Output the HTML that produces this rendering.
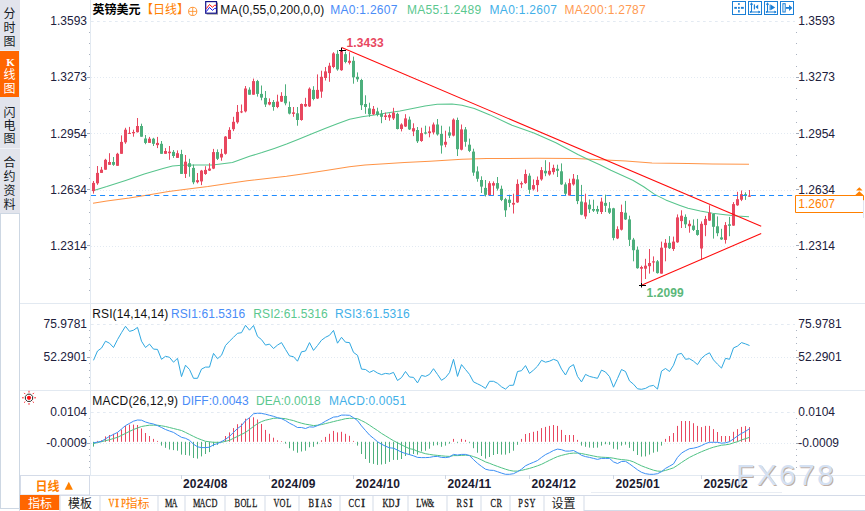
<!DOCTYPE html>
<html><head><meta charset="utf-8"><title>GBPUSD</title>
<style>
html,body{margin:0;padding:0;background:#fff;}
body{width:865px;height:511px;overflow:hidden;position:relative;font-family:"Liberation Sans",sans-serif;}
#g{position:absolute;left:0;top:0;}
#g text{font-family:"Liberation Sans","Noto Sans CJK SC",sans-serif;}
.s{font-family:'Liberation Serif',serif !important;font-size:12.5px;}
.s i{display:inline-block;width:6px;text-align:center;font-style:normal;}
.s b{display:inline-block;font-weight:normal;-webkit-text-stroke:0.3px currentColor;transform:scaleX(.66);margin:0 -3px;}
.s b.w{transform:scaleX(1);}
.t{position:absolute;white-space:nowrap;line-height:14px;height:14px;font-family:"Liberation Sans",sans-serif;}
</style></head><body>
<svg id="g" width="865" height="511" viewBox="0 0 865 511">
<rect x="0" y="0" width="20" height="213" fill="#e2e4ec"/>
<rect x="0" y="50" width="20" height="47" fill="#e9f0f9"/><rect x="0" y="51" width="19" height="46" fill="#ff6600"/>
<rect x="0" y="148" width="20" height="1" fill="#f0f2f7"/>
<rect x="0" y="213" width="20" height="296" fill="#cdd7e3"/>
<rect x="1" y="214" width="18" height="294" fill="#fff"/>
<text x="9.5" y="18" font-size="12" fill="#151a24" text-anchor="middle">分</text>
<text x="9.5" y="32" font-size="12" fill="#151a24" text-anchor="middle">时</text>
<text x="9.5" y="45.5" font-size="12" fill="#151a24" text-anchor="middle">图</text>
<text x="9.5" y="79" font-size="12" fill="#fff" text-anchor="middle">线</text>
<text x="9.5" y="92.5" font-size="12" fill="#fff" text-anchor="middle">图</text>
<text x="9.5" y="116.5" font-size="12" fill="#151a24" text-anchor="middle">闪</text>
<text x="9.5" y="130" font-size="12" fill="#151a24" text-anchor="middle">电</text>
<text x="9.5" y="143" font-size="12" fill="#151a24" text-anchor="middle">图</text>
<text x="9.5" y="166.5" font-size="12" fill="#151a24" text-anchor="middle">合</text>
<text x="9.5" y="180.5" font-size="12" fill="#151a24" text-anchor="middle">约</text>
<text x="9.5" y="194.5" font-size="12" fill="#151a24" text-anchor="middle">资</text>
<text x="9.5" y="208.5" font-size="12" fill="#151a24" text-anchor="middle">料</text>
<rect x="19" y="508" width="1" height="3" fill="#d4dbe8"/>
<rect x="20" y="303" width="845" height="1" fill="#e2e9f1"/>
<rect x="20" y="390" width="845" height="1" fill="#e2e9f1"/>
<rect x="20" y="475" width="845" height="1" fill="#e2e9f1"/>
<rect x="90" y="0" width="1" height="475" fill="#e2e9f1"/>
<rect x="20" y="495" width="845" height="1" fill="#d4dbe8"/>
<line x1="91" y1="21.5" x2="795" y2="21.5" stroke="#e3eaf2" stroke-width="1" stroke-dasharray="2.7 3.3"/>
<line x1="91" y1="77.5" x2="795" y2="77.5" stroke="#e3eaf2" stroke-width="1" stroke-dasharray="1 2"/>
<line x1="91" y1="133.5" x2="795" y2="133.5" stroke="#e3eaf2" stroke-width="1" stroke-dasharray="1 2"/>
<line x1="91" y1="190.5" x2="795" y2="190.5" stroke="#e3eaf2" stroke-width="1" stroke-dasharray="1 2"/>
<line x1="91" y1="246.5" x2="795" y2="246.5" stroke="#e3eaf2" stroke-width="1" stroke-dasharray="1 2"/>
<line x1="91" y1="324.5" x2="795" y2="324.5" stroke="#e3eaf2" stroke-width="1" stroke-dasharray="2.7 3.3"/>
<line x1="91" y1="357.5" x2="795" y2="357.5" stroke="#e3eaf2" stroke-width="1" stroke-dasharray="1 2"/>
<line x1="91" y1="412.5" x2="795" y2="412.5" stroke="#e3eaf2" stroke-width="1" stroke-dasharray="2.7 3.3"/>
<line x1="91" y1="443.5" x2="795" y2="443.5" stroke="#e3eaf2" stroke-width="1" stroke-dasharray="1 2"/>
<rect x="89" y="32" width="1" height="1" fill="#aab2c0"/>
<rect x="796" y="32" width="1" height="1" fill="#aab2c0"/>
<rect x="89" y="43" width="1" height="1" fill="#aab2c0"/>
<rect x="796" y="43" width="1" height="1" fill="#aab2c0"/>
<rect x="89" y="54" width="1" height="1" fill="#aab2c0"/>
<rect x="796" y="54" width="1" height="1" fill="#aab2c0"/>
<rect x="89" y="66" width="1" height="1" fill="#aab2c0"/>
<rect x="796" y="66" width="1" height="1" fill="#aab2c0"/>
<rect x="87" y="77" width="3" height="1" fill="#a3abb9"/>
<rect x="796" y="77" width="3" height="1" fill="#a3abb9"/>
<rect x="89" y="88" width="1" height="1" fill="#aab2c0"/>
<rect x="796" y="88" width="1" height="1" fill="#aab2c0"/>
<rect x="89" y="99" width="1" height="1" fill="#aab2c0"/>
<rect x="796" y="99" width="1" height="1" fill="#aab2c0"/>
<rect x="89" y="111" width="1" height="1" fill="#aab2c0"/>
<rect x="796" y="111" width="1" height="1" fill="#aab2c0"/>
<rect x="89" y="122" width="1" height="1" fill="#aab2c0"/>
<rect x="796" y="122" width="1" height="1" fill="#aab2c0"/>
<rect x="87" y="133" width="3" height="1" fill="#a3abb9"/>
<rect x="796" y="133" width="3" height="1" fill="#a3abb9"/>
<rect x="89" y="144" width="1" height="1" fill="#aab2c0"/>
<rect x="796" y="144" width="1" height="1" fill="#aab2c0"/>
<rect x="89" y="155" width="1" height="1" fill="#aab2c0"/>
<rect x="796" y="155" width="1" height="1" fill="#aab2c0"/>
<rect x="89" y="167" width="1" height="1" fill="#aab2c0"/>
<rect x="796" y="167" width="1" height="1" fill="#aab2c0"/>
<rect x="89" y="178" width="1" height="1" fill="#aab2c0"/>
<rect x="796" y="178" width="1" height="1" fill="#aab2c0"/>
<rect x="87" y="189" width="3" height="1" fill="#a3abb9"/>
<rect x="796" y="189" width="3" height="1" fill="#a3abb9"/>
<rect x="89" y="200" width="1" height="1" fill="#aab2c0"/>
<rect x="796" y="200" width="1" height="1" fill="#aab2c0"/>
<rect x="89" y="212" width="1" height="1" fill="#aab2c0"/>
<rect x="796" y="212" width="1" height="1" fill="#aab2c0"/>
<rect x="89" y="223" width="1" height="1" fill="#aab2c0"/>
<rect x="796" y="223" width="1" height="1" fill="#aab2c0"/>
<rect x="89" y="234" width="1" height="1" fill="#aab2c0"/>
<rect x="796" y="234" width="1" height="1" fill="#aab2c0"/>
<rect x="87" y="245" width="3" height="1" fill="#a3abb9"/>
<rect x="796" y="245" width="3" height="1" fill="#a3abb9"/>
<rect x="89" y="257" width="1" height="1" fill="#aab2c0"/>
<rect x="796" y="257" width="1" height="1" fill="#aab2c0"/>
<rect x="89" y="268" width="1" height="1" fill="#aab2c0"/>
<rect x="796" y="268" width="1" height="1" fill="#aab2c0"/>
<rect x="89" y="279" width="1" height="1" fill="#aab2c0"/>
<rect x="796" y="279" width="1" height="1" fill="#aab2c0"/>
<rect x="89" y="290" width="1" height="1" fill="#aab2c0"/>
<rect x="796" y="290" width="1" height="1" fill="#aab2c0"/>
<rect x="89" y="330" width="1" height="1" fill="#aab2c0"/>
<rect x="796" y="330" width="1" height="1" fill="#aab2c0"/>
<rect x="89" y="337" width="1" height="1" fill="#aab2c0"/>
<rect x="796" y="337" width="1" height="1" fill="#aab2c0"/>
<rect x="89" y="343" width="1" height="1" fill="#aab2c0"/>
<rect x="796" y="343" width="1" height="1" fill="#aab2c0"/>
<rect x="89" y="350" width="1" height="1" fill="#aab2c0"/>
<rect x="796" y="350" width="1" height="1" fill="#aab2c0"/>
<rect x="87" y="357" width="3" height="1" fill="#a3abb9"/>
<rect x="796" y="357" width="3" height="1" fill="#a3abb9"/>
<rect x="89" y="363" width="1" height="1" fill="#aab2c0"/>
<rect x="796" y="363" width="1" height="1" fill="#aab2c0"/>
<rect x="89" y="370" width="1" height="1" fill="#aab2c0"/>
<rect x="796" y="370" width="1" height="1" fill="#aab2c0"/>
<rect x="89" y="377" width="1" height="1" fill="#aab2c0"/>
<rect x="796" y="377" width="1" height="1" fill="#aab2c0"/>
<rect x="89" y="383" width="1" height="1" fill="#aab2c0"/>
<rect x="796" y="383" width="1" height="1" fill="#aab2c0"/>
<rect x="89" y="418" width="1" height="1" fill="#aab2c0"/>
<rect x="796" y="418" width="1" height="1" fill="#aab2c0"/>
<rect x="89" y="424" width="1" height="1" fill="#aab2c0"/>
<rect x="796" y="424" width="1" height="1" fill="#aab2c0"/>
<rect x="89" y="430" width="1" height="1" fill="#aab2c0"/>
<rect x="796" y="430" width="1" height="1" fill="#aab2c0"/>
<rect x="89" y="436" width="1" height="1" fill="#aab2c0"/>
<rect x="796" y="436" width="1" height="1" fill="#aab2c0"/>
<rect x="87" y="443" width="3" height="1" fill="#a3abb9"/>
<rect x="796" y="443" width="3" height="1" fill="#a3abb9"/>
<rect x="89" y="449" width="1" height="1" fill="#aab2c0"/>
<rect x="796" y="449" width="1" height="1" fill="#aab2c0"/>
<rect x="89" y="455" width="1" height="1" fill="#aab2c0"/>
<rect x="796" y="455" width="1" height="1" fill="#aab2c0"/>
<rect x="89" y="461" width="1" height="1" fill="#aab2c0"/>
<rect x="796" y="461" width="1" height="1" fill="#aab2c0"/>
<rect x="89" y="467" width="1" height="1" fill="#aab2c0"/>
<rect x="796" y="467" width="1" height="1" fill="#aab2c0"/>
<polyline points="93,203.3 106.8,201 129.3,198 148,195 168.6,191.6 188,189 207.9,186.6 228,183.6 247.2,180.7 267,178.4 286.5,176.3 306,173.4 325.8,170.4 349.4,166.7 365,165 385,163.7 404.4,162.6 430,161.2 462,159.2 486.6,158.5 537,158.3 575,158.6 596,159.6 626,161 652,163 688,163.4 712.6,163.9 749,164.2" fill="none" stroke="#ff9447" stroke-width="1.05" stroke-linejoin="round" />
<polyline points="93,190.8 106.8,186.6 125.6,180.4 144.3,173.9 163,168.6 172.5,166 182,165.2 196,165 212.6,164.9 232.4,162.5 249.6,156.3 262,152.6 274.3,148.4 286.6,144 298,139.6 312.6,133.6 325,128.6 337.3,123.7 349.6,119.3 362,116.8 374.3,115 386.6,112.9 400,111 412.6,108.5 425,106 437.3,104.3 452,104 462,105.3 474.3,108.5 490,114.9 512,125.3 533.9,132.9 555.9,142.8 577.9,154.5 588.8,159.7 599.8,164.8 610.8,170.3 621.8,175.3 632.8,180.2 643.7,186.8 654.7,194.4 665.7,199.9 680,205.4 688,208.3 700.3,211 712.6,213.2 725,214.7 737.3,216 749,216.7" fill="none" stroke="#57c48c" stroke-width="1.05" stroke-linejoin="round" />
<rect x="93" y="181" width="1" height="12.6" fill="#e8475f"/>
<rect x="92" y="182.9" width="3" height="8.2" fill="#e8475f"/>
<rect x="97" y="166" width="1" height="18.8" fill="#e8475f"/>
<rect x="96" y="172.9" width="3" height="10.4" fill="#e8475f"/>
<rect x="101" y="166.9" width="1" height="6" fill="#e8475f"/>
<rect x="100" y="169.7" width="3" height="3.2" fill="#e8475f"/>
<rect x="105" y="158.8" width="1" height="10.9" fill="#e8475f"/>
<rect x="104" y="159.8" width="3" height="9.9" fill="#e8475f"/>
<rect x="109" y="153.2" width="1" height="11.6" fill="#e8475f"/>
<rect x="108" y="162" width="3" height="2.8" fill="#e8475f"/>
<rect x="113" y="157" width="1" height="8.8" fill="#4daf7c"/>
<rect x="112" y="162" width="3" height="2.8" fill="#4daf7c"/>
<rect x="117" y="152.8" width="1" height="13" fill="#e8475f"/>
<rect x="116" y="153.8" width="3" height="12" fill="#e8475f"/>
<rect x="121" y="135.4" width="1" height="18.4" fill="#e8475f"/>
<rect x="120" y="141.9" width="3" height="11.9" fill="#e8475f"/>
<rect x="125" y="127.8" width="1" height="16" fill="#e8475f"/>
<rect x="124" y="129.7" width="3" height="12.6" fill="#e8475f"/>
<rect x="129" y="126.9" width="1" height="7" fill="#e8475f"/>
<rect x="128" y="132.9" width="3" height="1" fill="#e8475f"/>
<rect x="133" y="129.7" width="1" height="7" fill="#e8475f"/>
<rect x="132" y="132" width="3" height="1.3" fill="#e8475f"/>
<rect x="137" y="118" width="1" height="14.5" fill="#e8475f"/>
<rect x="136" y="126" width="3" height="6.2" fill="#e8475f"/>
<rect x="141" y="123.7" width="1" height="13" fill="#4daf7c"/>
<rect x="140" y="126" width="3" height="10.7" fill="#4daf7c"/>
<rect x="145" y="135" width="1" height="9.2" fill="#4daf7c"/>
<rect x="144" y="138.5" width="3" height="4.4" fill="#4daf7c"/>
<rect x="149" y="136.9" width="1" height="6" fill="#e8475f"/>
<rect x="148" y="138.7" width="3" height="4.2" fill="#e8475f"/>
<rect x="153" y="137.8" width="1" height="8.2" fill="#4daf7c"/>
<rect x="152" y="138.7" width="3" height="5.1" fill="#4daf7c"/>
<rect x="157" y="136.9" width="1" height="11.2" fill="#e8475f"/>
<rect x="156" y="142.9" width="3" height="2.2" fill="#e8475f"/>
<rect x="161" y="141" width="1" height="12.8" fill="#4daf7c"/>
<rect x="160" y="143.8" width="3" height="10" fill="#4daf7c"/>
<rect x="165" y="148.1" width="1" height="5.7" fill="#e8475f"/>
<rect x="164" y="151" width="3" height="2.8" fill="#e8475f"/>
<rect x="169" y="146" width="1" height="13.8" fill="#e8475f"/>
<rect x="168" y="151.7" width="3" height="1.5" fill="#e8475f"/>
<rect x="173" y="150" width="1" height="7.9" fill="#4daf7c"/>
<rect x="172" y="151.9" width="3" height="4.1" fill="#4daf7c"/>
<rect x="177" y="150.4" width="1" height="7.5" fill="#e8475f"/>
<rect x="176" y="153.2" width="3" height="4.7" fill="#e8475f"/>
<rect x="181" y="149.8" width="1" height="24.1" fill="#4daf7c"/>
<rect x="180" y="154.1" width="3" height="19.8" fill="#4daf7c"/>
<rect x="185" y="155" width="1" height="23" fill="#e8475f"/>
<rect x="184" y="161.7" width="3" height="12.2" fill="#e8475f"/>
<rect x="189" y="158.8" width="1" height="17.9" fill="#4daf7c"/>
<rect x="188" y="163.2" width="3" height="3.7" fill="#4daf7c"/>
<rect x="193" y="164.5" width="1" height="19.7" fill="#4daf7c"/>
<rect x="192" y="167.9" width="3" height="14.4" fill="#4daf7c"/>
<rect x="197" y="173" width="1" height="10.4" fill="#e8475f"/>
<rect x="196" y="180.2" width="3" height="2" fill="#e8475f"/>
<rect x="201" y="169.9" width="1" height="15.2" fill="#e8475f"/>
<rect x="200" y="170.6" width="3" height="10.8" fill="#e8475f"/>
<rect x="205" y="166.2" width="1" height="8.6" fill="#e8475f"/>
<rect x="204" y="169.9" width="3" height="4.1" fill="#e8475f"/>
<rect x="209" y="163.2" width="1" height="7.8" fill="#e8475f"/>
<rect x="208" y="168.6" width="3" height="2" fill="#e8475f"/>
<rect x="213" y="148.9" width="1" height="20.2" fill="#e8475f"/>
<rect x="212" y="152.1" width="3" height="16.5" fill="#e8475f"/>
<rect x="217" y="149.4" width="1" height="10.6" fill="#4daf7c"/>
<rect x="216" y="152.1" width="3" height="6.7" fill="#4daf7c"/>
<rect x="221" y="148.9" width="1" height="11.8" fill="#e8475f"/>
<rect x="220" y="153.8" width="3" height="3.7" fill="#e8475f"/>
<rect x="225" y="136" width="1" height="18.6" fill="#e8475f"/>
<rect x="224" y="136.6" width="3" height="17.2" fill="#e8475f"/>
<rect x="229" y="127.2" width="1" height="11.8" fill="#e8475f"/>
<rect x="228" y="129.9" width="3" height="9.1" fill="#e8475f"/>
<rect x="233" y="116.8" width="1" height="14.3" fill="#e8475f"/>
<rect x="232" y="121.8" width="3" height="7.4" fill="#e8475f"/>
<rect x="237" y="105" width="1" height="18.7" fill="#e8475f"/>
<rect x="236" y="111.9" width="3" height="10.4" fill="#e8475f"/>
<rect x="241" y="104.5" width="1" height="8.6" fill="#e8475f"/>
<rect x="240" y="111.4" width="3" height="1" fill="#e8475f"/>
<rect x="245" y="86" width="1" height="26.4" fill="#e8475f"/>
<rect x="244" y="88.5" width="3" height="22.9" fill="#e8475f"/>
<rect x="249" y="87.3" width="1" height="7.4" fill="#4daf7c"/>
<rect x="248" y="89.7" width="3" height="5" fill="#4daf7c"/>
<rect x="253" y="78.6" width="1" height="16.1" fill="#e8475f"/>
<rect x="252" y="81.1" width="3" height="13.6" fill="#e8475f"/>
<rect x="257" y="79.9" width="1" height="16.7" fill="#4daf7c"/>
<rect x="256" y="81.1" width="3" height="12.8" fill="#4daf7c"/>
<rect x="261" y="85.5" width="1" height="14.8" fill="#4daf7c"/>
<rect x="260" y="93.9" width="3" height="3.7" fill="#4daf7c"/>
<rect x="265" y="91" width="1" height="16" fill="#4daf7c"/>
<rect x="264" y="97.9" width="3" height="6.6" fill="#4daf7c"/>
<rect x="269" y="98.4" width="1" height="6.9" fill="#e8475f"/>
<rect x="268" y="102" width="3" height="2.5" fill="#e8475f"/>
<rect x="273" y="100" width="1" height="10.7" fill="#4daf7c"/>
<rect x="272" y="102" width="3" height="5" fill="#4daf7c"/>
<rect x="277" y="94.7" width="1" height="13.5" fill="#e8475f"/>
<rect x="276" y="101.6" width="3" height="5.4" fill="#e8475f"/>
<rect x="281" y="92.2" width="1" height="9.8" fill="#e8475f"/>
<rect x="280" y="95.9" width="3" height="5.7" fill="#e8475f"/>
<rect x="285" y="84.3" width="1" height="21" fill="#4daf7c"/>
<rect x="284" y="95.9" width="3" height="7.4" fill="#4daf7c"/>
<rect x="289" y="101.6" width="1" height="12.8" fill="#4daf7c"/>
<rect x="288" y="107" width="3" height="6.6" fill="#4daf7c"/>
<rect x="293" y="107" width="1" height="9.8" fill="#e8475f"/>
<rect x="292" y="112.4" width="3" height="1.5" fill="#e8475f"/>
<rect x="297" y="107" width="1" height="18.7" fill="#4daf7c"/>
<rect x="296" y="113.3" width="3" height="6.7" fill="#4daf7c"/>
<rect x="301" y="103.5" width="1" height="17.2" fill="#e8475f"/>
<rect x="300" y="104" width="3" height="16" fill="#e8475f"/>
<rect x="305" y="97.8" width="1" height="9.2" fill="#e8475f"/>
<rect x="304" y="104" width="3" height="2.4" fill="#e8475f"/>
<rect x="309" y="87.4" width="1" height="19.6" fill="#e8475f"/>
<rect x="308" y="88.7" width="3" height="17.7" fill="#e8475f"/>
<rect x="313" y="86.2" width="1" height="14.1" fill="#4daf7c"/>
<rect x="312" y="89.9" width="3" height="9.1" fill="#4daf7c"/>
<rect x="317" y="74.4" width="1" height="24.6" fill="#e8475f"/>
<rect x="316" y="89.9" width="3" height="8.6" fill="#e8475f"/>
<rect x="321" y="70.7" width="1" height="27.1" fill="#e8475f"/>
<rect x="320" y="76.8" width="3" height="14.8" fill="#e8475f"/>
<rect x="325" y="67" width="1" height="13.5" fill="#e8475f"/>
<rect x="324" y="71.4" width="3" height="6.6" fill="#e8475f"/>
<rect x="329" y="62.8" width="1" height="19" fill="#e8475f"/>
<rect x="328" y="65.7" width="3" height="7.4" fill="#e8475f"/>
<rect x="333" y="52.2" width="1" height="16" fill="#e8475f"/>
<rect x="332" y="53.4" width="3" height="13.6" fill="#e8475f"/>
<rect x="337" y="50.2" width="1" height="20.5" fill="#4daf7c"/>
<rect x="336" y="53.9" width="3" height="15.5" fill="#4daf7c"/>
<rect x="341" y="48.1" width="1" height="22.7" fill="#e8475f"/>
<rect x="340" y="51" width="3" height="19.2" fill="#e8475f"/>
<rect x="345" y="51.7" width="1" height="11.6" fill="#4daf7c"/>
<rect x="344" y="54.2" width="3" height="7.8" fill="#4daf7c"/>
<rect x="349" y="52.2" width="1" height="12.3" fill="#e8475f"/>
<rect x="348" y="60.8" width="3" height="2" fill="#e8475f"/>
<rect x="353" y="56.6" width="1" height="27.1" fill="#4daf7c"/>
<rect x="352" y="60.8" width="3" height="16.5" fill="#4daf7c"/>
<rect x="357" y="72.4" width="1" height="9.4" fill="#4daf7c"/>
<rect x="356" y="76.8" width="3" height="2.5" fill="#4daf7c"/>
<rect x="361" y="78.8" width="1" height="31.2" fill="#4daf7c"/>
<rect x="360" y="80" width="3" height="25.2" fill="#4daf7c"/>
<rect x="365" y="95.3" width="1" height="18.5" fill="#4daf7c"/>
<rect x="364" y="104" width="3" height="3" fill="#4daf7c"/>
<rect x="369" y="102.7" width="1" height="14.1" fill="#4daf7c"/>
<rect x="368" y="108.4" width="3" height="5.9" fill="#4daf7c"/>
<rect x="373" y="106" width="1" height="9" fill="#e8475f"/>
<rect x="372" y="108.9" width="3" height="5.4" fill="#e8475f"/>
<rect x="377" y="107.7" width="1" height="8.6" fill="#4daf7c"/>
<rect x="376" y="111.4" width="3" height="3.6" fill="#4daf7c"/>
<rect x="381" y="110" width="1" height="13.2" fill="#4daf7c"/>
<rect x="380" y="113.8" width="3" height="3" fill="#4daf7c"/>
<rect x="385" y="112.6" width="1" height="7.4" fill="#e8475f"/>
<rect x="384" y="115.5" width="3" height="1.5" fill="#e8475f"/>
<rect x="389" y="113.3" width="1" height="7.4" fill="#e8475f"/>
<rect x="388" y="115" width="3" height="2.5" fill="#e8475f"/>
<rect x="393" y="107.8" width="1" height="12.2" fill="#e8475f"/>
<rect x="392" y="112.7" width="3" height="5.7" fill="#e8475f"/>
<rect x="397" y="112.7" width="1" height="16.7" fill="#4daf7c"/>
<rect x="396" y="113.9" width="3" height="15.1" fill="#4daf7c"/>
<rect x="401" y="123.3" width="1" height="8.1" fill="#e8475f"/>
<rect x="400" y="124.5" width="3" height="4.5" fill="#e8475f"/>
<rect x="405" y="114.2" width="1" height="12.8" fill="#e8475f"/>
<rect x="404" y="118.4" width="3" height="8.1" fill="#e8475f"/>
<rect x="409" y="116.6" width="1" height="13.4" fill="#4daf7c"/>
<rect x="408" y="119.6" width="3" height="9.8" fill="#4daf7c"/>
<rect x="413" y="123.3" width="1" height="12.8" fill="#e8475f"/>
<rect x="412" y="128.2" width="3" height="3.2" fill="#e8475f"/>
<rect x="417" y="127" width="1" height="16" fill="#4daf7c"/>
<rect x="416" y="130" width="3" height="11.3" fill="#4daf7c"/>
<rect x="421" y="127.7" width="1" height="14.1" fill="#e8475f"/>
<rect x="420" y="133.1" width="3" height="7.9" fill="#e8475f"/>
<rect x="425" y="125.7" width="1" height="8.7" fill="#4daf7c"/>
<rect x="424" y="132.4" width="3" height="1.2" fill="#4daf7c"/>
<rect x="429" y="126.5" width="1" height="10.8" fill="#e8475f"/>
<rect x="428" y="131.4" width="3" height="1.7" fill="#e8475f"/>
<rect x="433" y="122.5" width="1" height="11.9" fill="#e8475f"/>
<rect x="432" y="124.5" width="3" height="7.9" fill="#e8475f"/>
<rect x="437" y="119" width="1" height="16.6" fill="#4daf7c"/>
<rect x="436" y="124.5" width="3" height="9.9" fill="#4daf7c"/>
<rect x="441" y="125.7" width="1" height="27.9" fill="#4daf7c"/>
<rect x="440" y="133.9" width="3" height="11.6" fill="#4daf7c"/>
<rect x="445" y="130.7" width="1" height="16.5" fill="#e8475f"/>
<rect x="444" y="141.8" width="3" height="2.9" fill="#e8475f"/>
<rect x="449" y="126.5" width="1" height="11.5" fill="#4daf7c"/>
<rect x="448" y="132.4" width="3" height="3.2" fill="#4daf7c"/>
<rect x="453" y="118.4" width="1" height="18" fill="#e8475f"/>
<rect x="452" y="119.6" width="3" height="16" fill="#e8475f"/>
<rect x="457" y="117.6" width="1" height="38.4" fill="#4daf7c"/>
<rect x="456" y="120" width="3" height="29.2" fill="#4daf7c"/>
<rect x="461" y="124.5" width="1" height="25.9" fill="#e8475f"/>
<rect x="460" y="129.4" width="3" height="20.3" fill="#e8475f"/>
<rect x="465" y="127" width="1" height="19.7" fill="#4daf7c"/>
<rect x="464" y="129.4" width="3" height="12.4" fill="#4daf7c"/>
<rect x="469" y="138.6" width="1" height="13.5" fill="#4daf7c"/>
<rect x="468" y="144.7" width="3" height="6.2" fill="#4daf7c"/>
<rect x="473" y="148.7" width="1" height="27.1" fill="#4daf7c"/>
<rect x="472" y="151.6" width="3" height="21" fill="#4daf7c"/>
<rect x="477" y="166.4" width="1" height="15.3" fill="#4daf7c"/>
<rect x="476" y="171.4" width="3" height="7.4" fill="#4daf7c"/>
<rect x="481" y="176.3" width="1" height="16.7" fill="#4daf7c"/>
<rect x="480" y="180" width="3" height="6.6" fill="#4daf7c"/>
<rect x="485" y="180" width="1" height="16.5" fill="#4daf7c"/>
<rect x="484" y="187.9" width="3" height="6.9" fill="#4daf7c"/>
<rect x="489" y="181.2" width="1" height="14.3" fill="#e8475f"/>
<rect x="488" y="183.2" width="3" height="12.1" fill="#e8475f"/>
<rect x="493" y="181.4" width="1" height="14.1" fill="#e8475f"/>
<rect x="492" y="183.1" width="3" height="2.5" fill="#e8475f"/>
<rect x="497" y="177" width="1" height="13.5" fill="#4daf7c"/>
<rect x="496" y="183.1" width="3" height="5.5" fill="#4daf7c"/>
<rect x="501" y="185.6" width="1" height="15.5" fill="#4daf7c"/>
<rect x="500" y="188.8" width="3" height="11.1" fill="#4daf7c"/>
<rect x="505" y="197.9" width="1" height="19" fill="#4daf7c"/>
<rect x="504" y="199.2" width="3" height="11.1" fill="#4daf7c"/>
<rect x="509" y="194.7" width="1" height="12.4" fill="#4daf7c"/>
<rect x="508" y="199.7" width="3" height="3.2" fill="#4daf7c"/>
<rect x="513" y="193.7" width="1" height="19.8" fill="#e8475f"/>
<rect x="512" y="202.9" width="3" height="1.7" fill="#e8475f"/>
<rect x="517" y="179.4" width="1" height="23.5" fill="#e8475f"/>
<rect x="516" y="183.9" width="3" height="18.5" fill="#e8475f"/>
<rect x="521" y="181.4" width="1" height="6.7" fill="#e8475f"/>
<rect x="520" y="183.1" width="3" height="1.3" fill="#e8475f"/>
<rect x="525" y="169.6" width="1" height="14.3" fill="#e8475f"/>
<rect x="524" y="174" width="3" height="9.1" fill="#e8475f"/>
<rect x="529" y="173.3" width="1" height="20.4" fill="#4daf7c"/>
<rect x="528" y="175.7" width="3" height="14.1" fill="#4daf7c"/>
<rect x="533" y="179.4" width="1" height="11.1" fill="#e8475f"/>
<rect x="532" y="185.1" width="3" height="4.2" fill="#e8475f"/>
<rect x="537" y="176.5" width="1" height="15.3" fill="#e8475f"/>
<rect x="536" y="179.9" width="3" height="5.2" fill="#e8475f"/>
<rect x="541" y="167.1" width="1" height="13.6" fill="#e8475f"/>
<rect x="540" y="170.1" width="3" height="9.3" fill="#e8475f"/>
<rect x="545" y="160.2" width="1" height="16" fill="#4daf7c"/>
<rect x="544" y="170.8" width="3" height="2.5" fill="#4daf7c"/>
<rect x="549" y="162.2" width="1" height="13.5" fill="#e8475f"/>
<rect x="548" y="170.8" width="3" height="3.7" fill="#e8475f"/>
<rect x="553" y="164.7" width="1" height="9.8" fill="#e8475f"/>
<rect x="552" y="167.9" width="3" height="4.2" fill="#e8475f"/>
<rect x="557" y="164.7" width="1" height="12.3" fill="#4daf7c"/>
<rect x="556" y="168.8" width="3" height="2" fill="#4daf7c"/>
<rect x="561" y="163.4" width="1" height="21.5" fill="#4daf7c"/>
<rect x="560" y="171.3" width="3" height="13.1" fill="#4daf7c"/>
<rect x="565" y="182.4" width="1" height="13.1" fill="#4daf7c"/>
<rect x="564" y="184.4" width="3" height="9.3" fill="#4daf7c"/>
<rect x="569" y="178.7" width="1" height="16.8" fill="#e8475f"/>
<rect x="568" y="183.1" width="3" height="12.4" fill="#e8475f"/>
<rect x="573" y="174" width="1" height="11.6" fill="#e8475f"/>
<rect x="572" y="178.7" width="3" height="5.7" fill="#e8475f"/>
<rect x="577" y="175" width="1" height="29.1" fill="#4daf7c"/>
<rect x="576" y="179.4" width="3" height="21.7" fill="#4daf7c"/>
<rect x="581" y="184.9" width="1" height="30.3" fill="#4daf7c"/>
<rect x="580" y="201.6" width="3" height="13.1" fill="#4daf7c"/>
<rect x="585" y="193.7" width="1" height="25.2" fill="#e8475f"/>
<rect x="584" y="202.4" width="3" height="14" fill="#e8475f"/>
<rect x="589" y="199.5" width="1" height="13.5" fill="#4daf7c"/>
<rect x="588" y="204.7" width="3" height="4.6" fill="#4daf7c"/>
<rect x="593" y="199.7" width="1" height="12.3" fill="#4daf7c"/>
<rect x="592" y="209" width="3" height="1.7" fill="#4daf7c"/>
<rect x="597" y="205.8" width="1" height="8.2" fill="#4daf7c"/>
<rect x="596" y="209" width="3" height="2.5" fill="#4daf7c"/>
<rect x="601" y="197.7" width="1" height="16.3" fill="#e8475f"/>
<rect x="600" y="201.6" width="3" height="10.4" fill="#e8475f"/>
<rect x="605" y="194.7" width="1" height="17.3" fill="#4daf7c"/>
<rect x="604" y="202.9" width="3" height="2.9" fill="#4daf7c"/>
<rect x="609" y="202.1" width="1" height="11.9" fill="#4daf7c"/>
<rect x="608" y="208.3" width="3" height="4.4" fill="#4daf7c"/>
<rect x="613" y="207.8" width="1" height="32.5" fill="#4daf7c"/>
<rect x="612" y="208.3" width="3" height="29.6" fill="#4daf7c"/>
<rect x="617" y="226.3" width="1" height="12.8" fill="#e8475f"/>
<rect x="616" y="229.2" width="3" height="9.2" fill="#e8475f"/>
<rect x="621" y="204.6" width="1" height="25.9" fill="#e8475f"/>
<rect x="620" y="212" width="3" height="17.7" fill="#e8475f"/>
<rect x="625" y="200.9" width="1" height="19" fill="#4daf7c"/>
<rect x="624" y="212.7" width="3" height="6.7" fill="#4daf7c"/>
<rect x="629" y="215.7" width="1" height="30.3" fill="#4daf7c"/>
<rect x="628" y="219.4" width="3" height="20.4" fill="#4daf7c"/>
<rect x="633" y="237.9" width="1" height="23.4" fill="#4daf7c"/>
<rect x="632" y="239.6" width="3" height="10.6" fill="#4daf7c"/>
<rect x="637" y="246.5" width="1" height="22.2" fill="#4daf7c"/>
<rect x="636" y="249.7" width="3" height="18.5" fill="#4daf7c"/>
<rect x="641" y="265.7" width="1" height="19" fill="#e8475f"/>
<rect x="640" y="267" width="3" height="1.7" fill="#e8475f"/>
<rect x="645" y="258.8" width="1" height="20.2" fill="#e8475f"/>
<rect x="644" y="265.7" width="3" height="3" fill="#e8475f"/>
<rect x="649" y="249" width="1" height="24.6" fill="#e8475f"/>
<rect x="648" y="263" width="3" height="3.2" fill="#e8475f"/>
<rect x="653" y="256.4" width="1" height="15.2" fill="#e8475f"/>
<rect x="652" y="261.3" width="3" height="1.2" fill="#e8475f"/>
<rect x="657" y="260" width="1" height="13.6" fill="#4daf7c"/>
<rect x="656" y="261.3" width="3" height="11.8" fill="#4daf7c"/>
<rect x="661" y="241.6" width="1" height="32" fill="#e8475f"/>
<rect x="660" y="247.7" width="3" height="25.9" fill="#e8475f"/>
<rect x="665" y="239.1" width="1" height="22.2" fill="#e8475f"/>
<rect x="664" y="242.8" width="3" height="4.9" fill="#e8475f"/>
<rect x="669" y="236.1" width="1" height="12.9" fill="#4daf7c"/>
<rect x="668" y="242.8" width="3" height="5.4" fill="#4daf7c"/>
<rect x="673" y="236.6" width="1" height="14.3" fill="#e8475f"/>
<rect x="672" y="241.6" width="3" height="7.4" fill="#e8475f"/>
<rect x="677" y="214.4" width="1" height="28.4" fill="#e8475f"/>
<rect x="676" y="217.4" width="3" height="24.9" fill="#e8475f"/>
<rect x="681" y="210.3" width="1" height="17.7" fill="#e8475f"/>
<rect x="680" y="215.7" width="3" height="5.4" fill="#e8475f"/>
<rect x="685" y="214.4" width="1" height="13.6" fill="#4daf7c"/>
<rect x="684" y="216.9" width="3" height="7.4" fill="#4daf7c"/>
<rect x="689" y="220.3" width="1" height="12.4" fill="#e8475f"/>
<rect x="688" y="223.8" width="3" height="2.4" fill="#e8475f"/>
<rect x="693" y="219.4" width="1" height="11.6" fill="#4daf7c"/>
<rect x="692" y="225.6" width="3" height="4.3" fill="#4daf7c"/>
<rect x="697" y="218.9" width="1" height="16.8" fill="#4daf7c"/>
<rect x="696" y="230" width="3" height="4.9" fill="#4daf7c"/>
<rect x="701" y="221.4" width="1" height="38.2" fill="#e8475f"/>
<rect x="700" y="223.8" width="3" height="24.7" fill="#e8475f"/>
<rect x="705" y="215.9" width="1" height="20.3" fill="#e8475f"/>
<rect x="704" y="218.9" width="3" height="6.2" fill="#e8475f"/>
<rect x="709" y="205.3" width="1" height="15.6" fill="#e8475f"/>
<rect x="708" y="212.7" width="3" height="7.9" fill="#e8475f"/>
<rect x="713" y="213.5" width="1" height="25.1" fill="#4daf7c"/>
<rect x="712" y="214" width="3" height="12.8" fill="#4daf7c"/>
<rect x="717" y="216.4" width="1" height="19.8" fill="#4daf7c"/>
<rect x="716" y="226.3" width="3" height="6.9" fill="#4daf7c"/>
<rect x="721" y="228.8" width="1" height="11.1" fill="#4daf7c"/>
<rect x="720" y="237.4" width="3" height="2" fill="#4daf7c"/>
<rect x="725" y="222.1" width="1" height="21.5" fill="#e8475f"/>
<rect x="724" y="225.1" width="3" height="14.8" fill="#e8475f"/>
<rect x="729" y="216.9" width="1" height="19.3" fill="#4daf7c"/>
<rect x="728" y="224.3" width="3" height="1.5" fill="#4daf7c"/>
<rect x="733" y="202.1" width="1" height="23.7" fill="#e8475f"/>
<rect x="732" y="204.1" width="3" height="21.5" fill="#e8475f"/>
<rect x="737" y="191.8" width="1" height="14" fill="#e8475f"/>
<rect x="736" y="199.2" width="3" height="6.1" fill="#e8475f"/>
<rect x="741" y="190.5" width="1" height="10.6" fill="#e8475f"/>
<rect x="740" y="194.2" width="3" height="5.5" fill="#e8475f"/>
<rect x="745" y="192.3" width="1" height="7.6" fill="#4daf7c"/>
<rect x="744" y="194.2" width="3" height="1.3" fill="#4daf7c"/>
<rect x="749" y="190" width="1" height="6.7" fill="#e8475f"/>
<rect x="748" y="195.5" width="3" height="1.2" fill="#e8475f"/>
<line x1="91" y1="195.5" x2="795" y2="195.5" stroke="#1e8cff" stroke-width="1.05" stroke-dasharray="5.04 4"/>
<line x1="341.7" y1="47.6" x2="761.2" y2="226.3" stroke="#ff0a0a" stroke-width="1.05"/>
<line x1="641.5" y1="285.2" x2="761.2" y2="233.6" stroke="#ff0a0a" stroke-width="1.05"/>
<rect x="339" y="50" width="7" height="1" fill="#000"/><rect x="341" y="47.7" width="1" height="4" fill="#000"/>
<rect x="639" y="285" width="7" height="1" fill="#000"/><rect x="641" y="283" width="1" height="4.5" fill="#000"/>
<polyline points="93.5,360.3 97.5,351 101.5,348.1 105.5,341.2 109.5,343.2 113.5,347.5 117.5,339.6 121.5,332.7 125.5,326.3 129.5,331.4 133.5,330.2 137.5,327.4 141.5,341.2 145.5,347.5 149.5,344.1 153.5,349.1 157.5,349.4 161.5,359.3 165.5,356.3 169.5,357.3 173.5,362.2 177.5,358.3 181.5,376.6 185.5,365.2 189.5,369.5 193.5,378.3 197.5,378.3 201.5,369.1 205.5,367.1 209.5,367.1 213.5,353.4 217.5,358.7 221.5,355.3 225.5,345.5 229.5,341.2 233.5,337.3 237.5,333.3 241.5,332.7 245.5,325.3 249.5,330.2 253.5,325.5 257.5,336.4 261.5,339.6 265.5,345.1 269.5,344.1 273.5,348.5 277.5,345.1 281.5,342.6 285.5,349.4 289.5,355.9 293.5,356.7 297.5,361.2 301.5,351.8 305.5,351 309.5,342.6 313.5,350.4 317.5,345.5 321.5,340.2 325.5,337.3 329.5,335.3 333.5,330.4 337.5,343.2 341.5,337.3 345.5,342.2 349.5,342.6 353.5,352.4 357.5,355.3 361.5,369.1 365.5,369.5 369.5,372.4 373.5,370.5 377.5,373 381.5,374.6 385.5,373.4 389.5,374 393.5,372.4 397.5,380.5 401.5,377.6 405.5,371.5 409.5,377 413.5,377.4 417.5,382.9 421.5,375.4 425.5,376.4 429.5,374.4 433.5,368.7 437.5,374.4 441.5,380.3 445.5,377.6 449.5,372.6 453.5,359.3 457.5,376.4 461.5,364.6 465.5,369.5 469.5,374.4 473.5,381.9 477.5,383.8 481.5,385.8 485.5,388.4 489.5,381.3 493.5,381.3 497.5,383.3 501.5,386.8 505.5,389.1 509.5,385.4 513.5,385.2 517.5,371.5 521.5,370.7 525.5,365.6 529.5,373.4 533.5,370.1 537.5,366.2 541.5,360.3 545.5,362.2 549.5,361.2 553.5,359.3 557.5,360.8 561.5,369.1 565.5,375 569.5,367.1 573.5,364.6 577.5,376.4 581.5,381.9 585.5,374.4 589.5,376.4 593.5,377.4 597.5,378.3 601.5,370.1 605.5,372 609.5,376.6 613.5,387.2 617.5,378.5 621.5,369.5 625.5,371.5 629.5,380.9 633.5,384.2 637.5,388.8 641.5,389.3 645.5,388.4 649.5,386.2 653.5,385.4 657.5,389.1 661.5,371.1 665.5,368.5 669.5,371.5 673.5,365.2 677.5,354.4 681.5,353.4 685.5,359.3 689.5,358.7 693.5,361.2 697.5,364.6 701.5,358.3 705.5,354.9 709.5,352.8 713.5,359.9 717.5,364.2 721.5,368.1 725.5,358.3 729.5,359.3 733.5,347.9 737.5,346.1 741.5,342.6 745.5,343.9 749.5,345.5" fill="none" stroke="#2fa8e1" stroke-width="1.0" stroke-linejoin="round" />
<rect x="93" y="441.8" width="1" height="4.8" fill="#4daf7c"/>
<rect x="97" y="440.9" width="1" height="0.9" fill="#e8475f"/>
<rect x="101" y="440.3" width="1" height="1.5" fill="#e8475f"/>
<rect x="105" y="436.4" width="1" height="5.4" fill="#e8475f"/>
<rect x="109" y="435" width="1" height="6.8" fill="#e8475f"/>
<rect x="113" y="433.8" width="1" height="8" fill="#e8475f"/>
<rect x="117" y="432.4" width="1" height="9.4" fill="#e8475f"/>
<rect x="121" y="429.5" width="1" height="12.3" fill="#e8475f"/>
<rect x="125" y="425.9" width="1" height="15.9" fill="#e8475f"/>
<rect x="129" y="424.6" width="1" height="17.2" fill="#e8475f"/>
<rect x="133" y="424.6" width="1" height="17.2" fill="#e8475f"/>
<rect x="137" y="425" width="1" height="16.8" fill="#e8475f"/>
<rect x="141" y="428.5" width="1" height="13.3" fill="#e8475f"/>
<rect x="145" y="433" width="1" height="8.8" fill="#e8475f"/>
<rect x="149" y="436" width="1" height="5.8" fill="#e8475f"/>
<rect x="153" y="438.9" width="1" height="2.9" fill="#e8475f"/>
<rect x="157" y="440.9" width="1" height="0.9" fill="#e8475f"/>
<rect x="161" y="441.8" width="1" height="3.8" fill="#4daf7c"/>
<rect x="165" y="441.8" width="1" height="6" fill="#4daf7c"/>
<rect x="169" y="441.8" width="1" height="7.7" fill="#4daf7c"/>
<rect x="173" y="441.8" width="1" height="8.3" fill="#4daf7c"/>
<rect x="177" y="441.8" width="1" height="8.9" fill="#4daf7c"/>
<rect x="181" y="441.8" width="1" height="12.8" fill="#4daf7c"/>
<rect x="185" y="441.8" width="1" height="13.2" fill="#4daf7c"/>
<rect x="189" y="441.8" width="1" height="13.8" fill="#4daf7c"/>
<rect x="193" y="441.8" width="1" height="16.2" fill="#4daf7c"/>
<rect x="197" y="441.8" width="1" height="16.8" fill="#4daf7c"/>
<rect x="201" y="441.8" width="1" height="14.6" fill="#4daf7c"/>
<rect x="205" y="441.8" width="1" height="12.2" fill="#4daf7c"/>
<rect x="209" y="441.8" width="1" height="10.3" fill="#4daf7c"/>
<rect x="213" y="441.8" width="1" height="4.4" fill="#4daf7c"/>
<rect x="217" y="441.8" width="1" height="3" fill="#4daf7c"/>
<rect x="221" y="440.9" width="1" height="0.9" fill="#e8475f"/>
<rect x="225" y="436" width="1" height="5.8" fill="#e8475f"/>
<rect x="229" y="432.4" width="1" height="9.4" fill="#e8475f"/>
<rect x="233" y="428.1" width="1" height="13.7" fill="#e8475f"/>
<rect x="237" y="424.2" width="1" height="17.6" fill="#e8475f"/>
<rect x="241" y="423.6" width="1" height="18.2" fill="#e8475f"/>
<rect x="245" y="418.7" width="1" height="23.1" fill="#e8475f"/>
<rect x="249" y="417.7" width="1" height="24.1" fill="#e8475f"/>
<rect x="253" y="417.3" width="1" height="24.5" fill="#e8475f"/>
<rect x="257" y="419.5" width="1" height="22.3" fill="#e8475f"/>
<rect x="261" y="424" width="1" height="17.8" fill="#e8475f"/>
<rect x="265" y="429.9" width="1" height="11.9" fill="#e8475f"/>
<rect x="269" y="433.8" width="1" height="8" fill="#e8475f"/>
<rect x="273" y="437.7" width="1" height="4.1" fill="#e8475f"/>
<rect x="277" y="440.3" width="1" height="1.5" fill="#e8475f"/>
<rect x="281" y="441.1" width="1" height="0.7" fill="#e8475f"/>
<rect x="285" y="441.8" width="1" height="1.8" fill="#4daf7c"/>
<rect x="289" y="441.8" width="1" height="6.4" fill="#4daf7c"/>
<rect x="293" y="441.8" width="1" height="8.9" fill="#4daf7c"/>
<rect x="297" y="441.8" width="1" height="10.9" fill="#4daf7c"/>
<rect x="301" y="441.8" width="1" height="9.7" fill="#4daf7c"/>
<rect x="305" y="441.8" width="1" height="8.9" fill="#4daf7c"/>
<rect x="309" y="441.8" width="1" height="5.4" fill="#4daf7c"/>
<rect x="313" y="441.8" width="1" height="5" fill="#4daf7c"/>
<rect x="317" y="441.8" width="1" height="2.4" fill="#4daf7c"/>
<rect x="321" y="440.3" width="1" height="1.5" fill="#e8475f"/>
<rect x="325" y="436.9" width="1" height="4.9" fill="#e8475f"/>
<rect x="329" y="433.8" width="1" height="8" fill="#e8475f"/>
<rect x="333" y="430.9" width="1" height="10.9" fill="#e8475f"/>
<rect x="337" y="432.4" width="1" height="9.4" fill="#e8475f"/>
<rect x="341" y="431.8" width="1" height="10" fill="#e8475f"/>
<rect x="345" y="433.8" width="1" height="8" fill="#e8475f"/>
<rect x="349" y="435.8" width="1" height="6" fill="#e8475f"/>
<rect x="353" y="440.9" width="1" height="0.9" fill="#e8475f"/>
<rect x="357" y="441.8" width="1" height="3.8" fill="#4daf7c"/>
<rect x="361" y="441.8" width="1" height="12.2" fill="#4daf7c"/>
<rect x="365" y="441.8" width="1" height="17.2" fill="#4daf7c"/>
<rect x="369" y="441.8" width="1" height="21.1" fill="#4daf7c"/>
<rect x="373" y="441.8" width="1" height="22.1" fill="#4daf7c"/>
<rect x="377" y="441.8" width="1" height="23.1" fill="#4daf7c"/>
<rect x="381" y="441.8" width="1" height="22.7" fill="#4daf7c"/>
<rect x="385" y="441.8" width="1" height="22.1" fill="#4daf7c"/>
<rect x="389" y="441.8" width="1" height="20.1" fill="#4daf7c"/>
<rect x="393" y="441.8" width="1" height="18.1" fill="#4daf7c"/>
<rect x="397" y="441.8" width="1" height="18.1" fill="#4daf7c"/>
<rect x="401" y="441.8" width="1" height="17.2" fill="#4daf7c"/>
<rect x="405" y="441.8" width="1" height="14.2" fill="#4daf7c"/>
<rect x="409" y="441.8" width="1" height="13.2" fill="#4daf7c"/>
<rect x="413" y="441.8" width="1" height="12.2" fill="#4daf7c"/>
<rect x="417" y="441.8" width="1" height="12.8" fill="#4daf7c"/>
<rect x="421" y="441.8" width="1" height="9.7" fill="#4daf7c"/>
<rect x="425" y="441.8" width="1" height="8.9" fill="#4daf7c"/>
<rect x="429" y="441.8" width="1" height="6.9" fill="#4daf7c"/>
<rect x="433" y="441.8" width="1" height="3.8" fill="#4daf7c"/>
<rect x="437" y="441.8" width="1" height="3.4" fill="#4daf7c"/>
<rect x="441" y="441.8" width="1" height="5" fill="#4daf7c"/>
<rect x="445" y="441.8" width="1" height="3.8" fill="#4daf7c"/>
<rect x="449" y="441.8" width="1" height="1.8" fill="#4daf7c"/>
<rect x="453" y="438.9" width="1" height="2.9" fill="#e8475f"/>
<rect x="457" y="441.8" width="1" height="1" fill="#4daf7c"/>
<rect x="461" y="438.9" width="1" height="2.9" fill="#e8475f"/>
<rect x="465" y="439.9" width="1" height="1.9" fill="#e8475f"/>
<rect x="469" y="441.8" width="1" height="1" fill="#4daf7c"/>
<rect x="473" y="441.8" width="1" height="6.4" fill="#4daf7c"/>
<rect x="477" y="441.8" width="1" height="10.9" fill="#4daf7c"/>
<rect x="481" y="441.8" width="1" height="14.2" fill="#4daf7c"/>
<rect x="485" y="441.8" width="1" height="16.8" fill="#4daf7c"/>
<rect x="489" y="441.8" width="1" height="15.2" fill="#4daf7c"/>
<rect x="493" y="441.8" width="1" height="13.2" fill="#4daf7c"/>
<rect x="497" y="441.8" width="1" height="12.2" fill="#4daf7c"/>
<rect x="501" y="441.8" width="1" height="12.8" fill="#4daf7c"/>
<rect x="505" y="441.8" width="1" height="12.8" fill="#4daf7c"/>
<rect x="509" y="441.8" width="1" height="11.3" fill="#4daf7c"/>
<rect x="513" y="441.8" width="1" height="8.9" fill="#4daf7c"/>
<rect x="517" y="441.8" width="1" height="3" fill="#4daf7c"/>
<rect x="521" y="438.9" width="1" height="2.9" fill="#e8475f"/>
<rect x="525" y="434" width="1" height="7.8" fill="#e8475f"/>
<rect x="529" y="433" width="1" height="8.8" fill="#e8475f"/>
<rect x="533" y="431.8" width="1" height="10" fill="#e8475f"/>
<rect x="537" y="430.9" width="1" height="10.9" fill="#e8475f"/>
<rect x="541" y="428.1" width="1" height="13.7" fill="#e8475f"/>
<rect x="545" y="426.9" width="1" height="14.9" fill="#e8475f"/>
<rect x="549" y="425.9" width="1" height="15.9" fill="#e8475f"/>
<rect x="553" y="425" width="1" height="16.8" fill="#e8475f"/>
<rect x="557" y="425.9" width="1" height="15.9" fill="#e8475f"/>
<rect x="561" y="429.9" width="1" height="11.9" fill="#e8475f"/>
<rect x="565" y="435" width="1" height="6.8" fill="#e8475f"/>
<rect x="569" y="435" width="1" height="6.8" fill="#e8475f"/>
<rect x="573" y="435" width="1" height="6.8" fill="#e8475f"/>
<rect x="577" y="439.9" width="1" height="1.9" fill="#e8475f"/>
<rect x="581" y="441.8" width="1" height="3.8" fill="#4daf7c"/>
<rect x="585" y="441.8" width="1" height="5" fill="#4daf7c"/>
<rect x="589" y="441.8" width="1" height="5.8" fill="#4daf7c"/>
<rect x="593" y="441.8" width="1" height="6" fill="#4daf7c"/>
<rect x="597" y="441.8" width="1" height="5.8" fill="#4daf7c"/>
<rect x="601" y="441.8" width="1" height="3.8" fill="#4daf7c"/>
<rect x="605" y="441.8" width="1" height="2.4" fill="#4daf7c"/>
<rect x="609" y="441.8" width="1" height="3" fill="#4daf7c"/>
<rect x="613" y="441.8" width="1" height="6.9" fill="#4daf7c"/>
<rect x="617" y="441.8" width="1" height="7.7" fill="#4daf7c"/>
<rect x="621" y="441.8" width="1" height="3.8" fill="#4daf7c"/>
<rect x="625" y="441.8" width="1" height="2.8" fill="#4daf7c"/>
<rect x="629" y="441.8" width="1" height="6" fill="#4daf7c"/>
<rect x="633" y="441.8" width="1" height="9.3" fill="#4daf7c"/>
<rect x="637" y="441.8" width="1" height="13.2" fill="#4daf7c"/>
<rect x="641" y="441.8" width="1" height="14.8" fill="#4daf7c"/>
<rect x="645" y="441.8" width="1" height="14.6" fill="#4daf7c"/>
<rect x="649" y="441.8" width="1" height="12.8" fill="#4daf7c"/>
<rect x="653" y="441.8" width="1" height="10.9" fill="#4daf7c"/>
<rect x="657" y="441.8" width="1" height="9.9" fill="#4daf7c"/>
<rect x="661" y="441.8" width="1" height="3.8" fill="#4daf7c"/>
<rect x="665" y="438.9" width="1" height="2.9" fill="#e8475f"/>
<rect x="669" y="436" width="1" height="5.8" fill="#e8475f"/>
<rect x="673" y="433" width="1" height="8.8" fill="#e8475f"/>
<rect x="677" y="425.9" width="1" height="15.9" fill="#e8475f"/>
<rect x="681" y="421" width="1" height="20.8" fill="#e8475f"/>
<rect x="685" y="421" width="1" height="20.8" fill="#e8475f"/>
<rect x="689" y="421" width="1" height="20.8" fill="#e8475f"/>
<rect x="693" y="423.2" width="1" height="18.6" fill="#e8475f"/>
<rect x="697" y="425.9" width="1" height="15.9" fill="#e8475f"/>
<rect x="701" y="427.1" width="1" height="14.7" fill="#e8475f"/>
<rect x="705" y="425.9" width="1" height="15.9" fill="#e8475f"/>
<rect x="709" y="425.9" width="1" height="15.9" fill="#e8475f"/>
<rect x="713" y="429.1" width="1" height="12.7" fill="#e8475f"/>
<rect x="717" y="432" width="1" height="9.8" fill="#e8475f"/>
<rect x="721" y="436" width="1" height="5.8" fill="#e8475f"/>
<rect x="725" y="436" width="1" height="5.8" fill="#e8475f"/>
<rect x="729" y="436" width="1" height="5.8" fill="#e8475f"/>
<rect x="733" y="431.8" width="1" height="10" fill="#e8475f"/>
<rect x="737" y="429.1" width="1" height="12.7" fill="#e8475f"/>
<rect x="741" y="426.9" width="1" height="14.9" fill="#e8475f"/>
<rect x="745" y="426.1" width="1" height="15.7" fill="#e8475f"/>
<rect x="749" y="427.1" width="1" height="14.7" fill="#e8475f"/>
<clipPath id="mc"><rect x="90" y="391" width="710" height="84"/></clipPath>
<polyline points="93.5,443.6 97.5,442.6 101.5,441.7 105.5,440.7 109.5,439.7 113.5,438.5 117.5,437.3 121.5,435.4 125.5,433.4 129.5,431.4 133.5,429.5 137.5,428 141.5,426.5 145.5,425.8 149.5,425.2 153.5,425.2 157.5,425.2 161.5,425.8 165.5,426.5 169.5,427.5 173.5,428.5 177.5,429.5 181.5,430.5 185.5,432.4 189.5,434.4 193.5,436.4 197.5,438.3 201.5,439.8 205.5,441.3 209.5,441.8 213.5,442.3 217.5,442.3 221.5,442.3 225.5,441.3 229.5,440.3 233.5,438.3 237.5,436.4 241.5,434.4 245.5,432.4 249.5,429.5 253.5,426.5 257.5,423.6 261.5,421.6 265.5,420.2 269.5,419.3 273.5,418.3 277.5,418.1 281.5,418.3 285.5,418.7 289.5,419.7 293.5,420.6 297.5,422 301.5,423.2 305.5,424.2 309.5,424.8 313.5,425.6 317.5,425.2 321.5,424.6 325.5,423.6 329.5,422.6 333.5,421.6 337.5,420.6 341.5,419.7 345.5,418.7 349.5,418.3 353.5,418.3 357.5,418.7 361.5,420.6 365.5,422.6 369.5,425.2 373.5,427.9 377.5,430.5 381.5,433.4 385.5,435.8 389.5,438.3 393.5,440.7 397.5,442.8 401.5,444.8 405.5,446.8 409.5,448.7 413.5,449.4 417.5,451.3 421.5,452.5 425.5,453.7 429.5,454.4 433.5,455 437.5,455.4 441.5,455.8 445.5,456.2 449.5,456.4 453.5,455.6 457.5,455.6 461.5,455.4 465.5,455.2 469.5,455.4 473.5,456.6 477.5,458 481.5,459.9 485.5,461.9 489.5,463.3 493.5,464.9 497.5,466.4 501.5,467.8 505.5,469.2 509.5,470.4 513.5,471.1 517.5,471.1 521.5,470.4 525.5,469.4 529.5,468.4 533.5,467.2 537.5,465.8 541.5,464.3 545.5,462.3 549.5,460.3 553.5,458.4 557.5,456.6 561.5,455.4 565.5,454.4 569.5,453.5 573.5,453.1 577.5,453.1 581.5,453.5 585.5,454.4 589.5,455.2 593.5,456 597.5,456.8 601.5,457.2 605.5,457.4 609.5,457.6 613.5,458.2 617.5,459 621.5,459.6 625.5,459.9 629.5,460.5 633.5,461.9 637.5,463.9 641.5,465.8 645.5,467.4 649.5,468.8 653.5,470.2 657.5,471.1 661.5,471.3 665.5,470.4 669.5,469.2 673.5,467.8 677.5,465.3 681.5,462.5 685.5,459.9 689.5,457.4 693.5,455.4 697.5,453.5 701.5,451.7 705.5,450.1 709.5,448.5 713.5,447.2 717.5,446.2 721.5,445.2 725.5,444.8 729.5,444.2 733.5,442.8 737.5,441.7 741.5,439.9 745.5,438.7 749.5,437.3" fill="none" stroke="#4fc285" stroke-width="1.0" stroke-linejoin="round" clip-path="url(#mc)"/>
<polyline points="93.5,442.8 97.5,442.1 101.5,441.3 105.5,438.8 109.5,436.4 113.5,434.4 117.5,432.4 121.5,429 125.5,425.6 129.5,423.4 133.5,421.2 137.5,420 141.5,420.2 145.5,422 149.5,423.2 153.5,424 157.5,425.6 161.5,427.5 165.5,429.5 169.5,431 173.5,432.4 177.5,434.9 181.5,437.3 185.5,438.3 189.5,440.3 193.5,444.2 197.5,446.8 201.5,447.6 205.5,447.6 209.5,447.2 213.5,444.8 217.5,443.6 221.5,441.7 225.5,439.3 229.5,436.4 233.5,432.4 237.5,428.5 241.5,425.6 245.5,420.6 249.5,417.7 253.5,413.8 257.5,413.2 261.5,413.4 265.5,414.2 269.5,415.3 273.5,416.3 277.5,417.7 281.5,418.7 285.5,420.6 289.5,423.2 293.5,425.2 297.5,427.5 301.5,427.5 305.5,428.5 309.5,426.9 313.5,427.1 317.5,425.6 321.5,423.6 325.5,421.2 329.5,419.1 333.5,417.1 337.5,416.7 341.5,415.1 345.5,415.1 349.5,415.3 353.5,417.7 357.5,420.6 361.5,425.9 365.5,430.5 369.5,435 373.5,438.3 377.5,441.7 381.5,444.2 385.5,446.2 389.5,447.8 393.5,448.2 397.5,450.1 401.5,452.1 405.5,453.5 409.5,454.6 413.5,455.8 417.5,457.4 421.5,457.6 425.5,457.6 429.5,457.4 433.5,456.6 437.5,456.4 441.5,457.4 445.5,457.6 449.5,457 453.5,454.4 457.5,455 461.5,454.4 465.5,454.4 469.5,455.6 473.5,459.6 477.5,463.3 481.5,466.4 485.5,469.2 489.5,470.2 493.5,470.4 497.5,471.7 501.5,473.1 505.5,474.3 509.5,474.3 513.5,473.7 517.5,471.7 521.5,469.2 525.5,465.8 529.5,463.9 533.5,462.3 537.5,460.5 541.5,457.4 545.5,454.6 549.5,452.7 553.5,450.5 557.5,449.1 561.5,449.7 565.5,451.1 569.5,451.1 573.5,450.5 577.5,452.6 581.5,455.3 585.5,456.6 589.5,457.4 593.5,458.4 597.5,459.4 601.5,458.4 605.5,458.4 609.5,458.4 613.5,461.9 617.5,463.5 621.5,461.5 625.5,461.3 629.5,463.9 633.5,466.8 637.5,469.8 641.5,472.3 645.5,473.7 649.5,474.3 653.5,474.3 657.5,473.7 661.5,471.7 665.5,468.4 669.5,466.2 673.5,463.9 677.5,457.4 681.5,453.1 685.5,450.7 689.5,448.7 693.5,448.2 697.5,447.2 701.5,445.6 705.5,443.6 709.5,442.3 713.5,442.3 717.5,442.3 721.5,443.2 725.5,442.8 729.5,441.7 733.5,438.9 737.5,436 741.5,433.4 745.5,431.4 749.5,428.7" fill="none" stroke="#3b8ff5" stroke-width="1.0" stroke-linejoin="round" clip-path="url(#mc)"/>
<rect x="795" y="195" width="69" height="18" fill="#fff"/>
<path d="M863.5 200.5V195.5H795.5V212.5H863.5" fill="none" stroke="#ff8000" stroke-width="1"/>
<rect x="863" y="200.5" width="1" height="17.5" fill="#e1e5f1"/>
<path d="M859.3 187.2L862.6 190.6H856ZM859.3 191.3L863.6 195.2H855Z" fill="#ff8000"/>
<circle cx="192.7" cy="11.4" r="4.1" fill="none" stroke="#ff8a1f" stroke-width="0.9"/><path d="M188.6 11.4H196.8M192.7 7.3V15.5" stroke="#ff8a1f" stroke-width="0.8" fill="none"/>
<rect x="206.6" y="2.6" width="11.4" height="12" fill="#8f8f8f"/>
<rect x="205.7" y="1.6" width="10.8" height="11.6" fill="#fff" stroke="#14148c" stroke-width="1.2"/>
<polyline points="206.3,8.7 209.5,4.5 212.4,7.2 214.7,5.3 216.1,5.3" fill="none" stroke="#ff1010" stroke-width="1"/>
<polyline points="206.3,11.6 209.5,7.4 212.4,10.4 214.7,8.4 216.1,8.4" fill="none" stroke="#1616f0" stroke-width="1"/>
<rect x="732.5" y="1.5" width="13" height="13" fill="#fff" stroke="#1a7fd6" stroke-width="1"/>
<rect x="748.5" y="1.5" width="13" height="13" fill="#fff" stroke="#1a7fd6" stroke-width="1"/>
<rect x="764.5" y="1.5" width="13" height="13" fill="#fff" stroke="#1a7fd6" stroke-width="1"/>
<rect x="780.5" y="1.5" width="13" height="13" fill="#fff" stroke="#1a7fd6" stroke-width="1"/>
<rect x="734.3" y="6.9" width="2.6" height="1.9" fill="#1a7fd6"/>
<rect x="738.0" y="6.9" width="1.8" height="1.9" fill="#1a7fd6"/>
<rect x="740.9" y="6.9" width="2.9" height="1.9" fill="#1a7fd6"/>
<rect x="738.1" y="3.1" width="1.6" height="1.8" fill="#1a7fd6"/>
<rect x="738.1" y="10.1" width="1.6" height="2.4" fill="#1a7fd6"/>
<path d="M751.5 3V12M750 12H760" stroke="#1a7fd6" stroke-width="1.05" fill="none"/>
<path d="M751.5 2.2L753.2 4.8H749.8ZM760.6 12L758.4 10.4V13.6ZM749.5 12L751.2 10.7V13.3Z" fill="#1a7fd6"/>
<path d="M767.5 3V12M766 12H776" stroke="#1a7fd6" stroke-width="1.05" fill="none"/>
<path d="M767.5 2.2L769.2 4.8H765.8ZM776.6 12L774.4 10.4V13.6ZM765.5 12L767.2 10.7V13.3Z" fill="#1a7fd6"/>
<rect x="753.8" y="4.4" width="1.2" height="5" fill="#1a7fd6"/><path d="M755.4 6.9L758.2 4.6V9.2Z" fill="#1a7fd6"/>
<rect x="769.6" y="4.6" width="1" height="5.6" fill="#1a7fd6"/><path d="M775.2 7.4L770.6 4.6V10.2Z" fill="#1a7fd6"/>
<rect x="782.9" y="3.7" width="2.3" height="8.3" fill="none" stroke="#1a7fd6" stroke-width="1"/><path d="M785.8 7.9H791" stroke="#1a7fd6" stroke-width="1.8"/><path d="M792.4 7.9L789 4.8V11Z" fill="#1a7fd6"/>
<polygon points="32.6,399.3 30.5,401.4 27.5,401.4 25.4,399.3 25.4,396.3 27.5,394.2 30.5,394.2 32.6,396.3" fill="#fff" stroke="#111" stroke-width="0.9"/>
<circle cx="29" cy="397.8" r="2.1" fill="#ff0a14"/>
<line x1="34.2" y1="397.8" x2="36" y2="397.8" stroke="#ff0a14" stroke-width="0.9"/>
<line x1="32.7" y1="401.5" x2="33.9" y2="402.7" stroke="#ff0a14" stroke-width="0.9"/>
<line x1="29" y1="403" x2="29" y2="404.8" stroke="#ff0a14" stroke-width="0.9"/>
<line x1="25.3" y1="401.5" x2="24.1" y2="402.7" stroke="#ff0a14" stroke-width="0.9"/>
<line x1="23.8" y1="397.8" x2="22" y2="397.8" stroke="#ff0a14" stroke-width="0.9"/>
<line x1="25.3" y1="394.1" x2="24.1" y2="392.9" stroke="#ff0a14" stroke-width="0.9"/>
<line x1="29" y1="392.6" x2="29" y2="390.8" stroke="#ff0a14" stroke-width="0.9"/>
<line x1="32.7" y1="394.1" x2="33.9" y2="392.9" stroke="#ff0a14" stroke-width="0.9"/>
<text x="92.5" y="14" font-size="12" font-weight="bold" fill="#000">英镑美元</text>
<text x="141" y="14" font-size="12" fill="#ff8000">【日线】</text>
<rect x="181.0" y="475" width="1" height="4" fill="#cfd6e2"/>
<rect x="269.0" y="475" width="1" height="4" fill="#cfd6e2"/>
<rect x="353.0" y="475" width="1" height="4" fill="#cfd6e2"/>
<rect x="445.0" y="475" width="1" height="4" fill="#cfd6e2"/>
<rect x="529.0" y="475" width="1" height="4" fill="#cfd6e2"/>
<rect x="613.0" y="475" width="1" height="4" fill="#cfd6e2"/>
<rect x="701.0" y="475" width="1" height="4" fill="#cfd6e2"/>
<rect x="591" y="492" width="191" height="1" fill="#e9edf3"/>
<rect x="20.5" y="475.5" width="69" height="19.5" fill="#fff" stroke="#d4dbe8" stroke-width="1"/>
<text x="35.5" y="491" font-size="12" font-weight="bold" fill="#ff8000">日线</text>
<path d="M68.8 481.7L72.9 489.7H64.7Z" fill="#ff8000"/>
<rect x="20" y="495" width="39.3" height="15" fill="#ff6600"/>
<rect x="59.5" y="496" width="1" height="15" fill="#d4dbe8"/>
<rect x="99.5" y="496" width="1" height="15" fill="#d4dbe8"/>
<rect x="157.5" y="496" width="1" height="15" fill="#d4dbe8"/>
<rect x="184.5" y="496" width="1" height="15" fill="#d4dbe8"/>
<rect x="224.5" y="496" width="1" height="15" fill="#d4dbe8"/>
<rect x="264.5" y="496" width="1" height="15" fill="#d4dbe8"/>
<rect x="298.5" y="496" width="1" height="15" fill="#d4dbe8"/>
<rect x="339.5" y="496" width="1" height="15" fill="#d4dbe8"/>
<rect x="372.5" y="496" width="1" height="15" fill="#d4dbe8"/>
<rect x="407.5" y="496" width="1" height="15" fill="#d4dbe8"/>
<rect x="446.5" y="496" width="1" height="15" fill="#d4dbe8"/>
<rect x="480.5" y="496" width="1" height="15" fill="#d4dbe8"/>
<rect x="509.5" y="496" width="1" height="15" fill="#d4dbe8"/>
<rect x="543.5" y="496" width="1" height="15" fill="#d4dbe8"/>
<rect x="583.5" y="496" width="1" height="15" fill="#d4dbe8"/>
<rect x="584" y="510" width="281" height="1" fill="#d4dbe8"/>
<text x="28" y="507.5" font-size="12" fill="#fff">指标</text>
<text x="68" y="507.5" font-size="12" fill="#222">模板</text>
<text x="125.5" y="507.5" font-size="12" fill="#ff8000">指标</text>
<text x="551.5" y="507.5" font-size="12" fill="#222">设置</text>
</svg>
<div class="t" style="left:27px;top:14px;color:#20203c;font-size:12px;width:60px;text-align:right;">1.3593</div><div class="t" style="left:798.3px;top:14px;color:#20203c;font-size:12px;">1.3593</div><div class="t" style="left:27px;top:70.3px;color:#20203c;font-size:12px;width:60px;text-align:right;">1.3273</div><div class="t" style="left:798.3px;top:70.3px;color:#20203c;font-size:12px;">1.3273</div><div class="t" style="left:27px;top:126.6px;color:#20203c;font-size:12px;width:60px;text-align:right;">1.2954</div><div class="t" style="left:798.3px;top:126.6px;color:#20203c;font-size:12px;">1.2954</div><div class="t" style="left:27px;top:183px;color:#20203c;font-size:12px;width:60px;text-align:right;">1.2634</div><div class="t" style="left:798.3px;top:183px;color:#20203c;font-size:12px;">1.2634</div><div class="t" style="left:27px;top:239.2px;color:#20203c;font-size:12px;width:60px;text-align:right;">1.2314</div><div class="t" style="left:798.3px;top:239.2px;color:#20203c;font-size:12px;">1.2314</div><div class="t" style="left:27px;top:317px;color:#20203c;font-size:12px;width:60px;text-align:right;">75.9781</div><div class="t" style="left:798.3px;top:317px;color:#20203c;font-size:12px;">75.9781</div><div class="t" style="left:27px;top:350.3px;color:#20203c;font-size:12px;width:60px;text-align:right;">52.2901</div><div class="t" style="left:798.3px;top:350.3px;color:#20203c;font-size:12px;">52.2901</div><div class="t" style="left:27px;top:405.3px;color:#20203c;font-size:12px;width:60px;text-align:right;">0.0104</div><div class="t" style="left:798.3px;top:405.3px;color:#20203c;font-size:12px;">0.0104</div><div class="t" style="left:27px;top:436.3px;color:#20203c;font-size:12px;width:60px;text-align:right;">-0.0009</div><div class="t" style="left:798.3px;top:436.3px;color:#20203c;font-size:12px;">-0.0009</div><div class="t" style="left:798.3px;top:197px;color:#ff8000;font-size:12px;">1.2607</div><div class="t" style="left:220.3px;top:2.8px;color:#111;font-size:12px;letter-spacing:0.07px;">MA(0,55,0,200,0,0)</div><div class="t" style="left:330.2px;top:2.8px;color:#4a8cf7;font-size:12px;letter-spacing:0.28px;">MA0:1.2607</div><div class="t" style="left:407px;top:2.8px;color:#5bc88f;font-size:12px;letter-spacing:0.28px;">MA55:1.2489</div><div class="t" style="left:489.6px;top:2.8px;color:#42b0e8;font-size:12px;letter-spacing:0.28px;">MA0:1.2607</div><div class="t" style="left:564.6px;top:2.8px;color:#ff9a52;font-size:12px;letter-spacing:0.28px;">MA200:1.2787</div><div class="t" style="left:92.3px;top:306.7px;color:#111;font-size:12px;letter-spacing:0.1px;">RSI(14,14,14)</div><div class="t" style="left:171px;top:306.7px;color:#4a8cf7;font-size:12px;letter-spacing:0.08px;">RSI1:61.5316</div><div class="t" style="left:253.3px;top:306.7px;color:#5bc88f;font-size:12px;letter-spacing:0.08px;">RSI2:61.5316</div><div class="t" style="left:335px;top:306.7px;color:#42b0e8;font-size:12px;letter-spacing:0.12px;">RSI3:61.5316</div><div class="t" style="left:92.3px;top:393.8px;color:#111;font-size:12px;letter-spacing:0.2px;">MACD(26,12,9)</div><div class="t" style="left:182px;top:393.8px;color:#4a8cf7;font-size:12px;">DIFF:0.0043</div><div class="t" style="left:256px;top:393.8px;color:#5bc88f;font-size:12px;">DEA:0.0018</div><div class="t" style="left:329px;top:393.8px;color:#42b0e8;font-size:12px;letter-spacing:0.17px;">MACD:0.0051</div><div class="t" style="left:346.4px;top:35.7px;color:#e8475f;font-size:12px;font-weight:bold;letter-spacing:0.12px;">1.3433</div><div class="t" style="left:646.4px;top:286.3px;color:#5cb87a;font-size:12px;font-weight:bold;letter-spacing:0.12px;">1.2099</div><div class="t" style="left:183px;top:477.4px;color:#1a1a30;font-size:12px;font-weight:bold;letter-spacing:0.17px;">2024/08</div><div class="t" style="left:271px;top:477.4px;color:#1a1a30;font-size:12px;font-weight:bold;letter-spacing:0.17px;">2024/09</div><div class="t" style="left:355.5px;top:477.4px;color:#1a1a30;font-size:12px;font-weight:bold;letter-spacing:0.17px;">2024/10</div><div class="t" style="left:447.5px;top:477.4px;color:#1a1a30;font-size:12px;font-weight:bold;letter-spacing:0.17px;">2024/11</div><div class="t" style="left:531.5px;top:477.4px;color:#1a1a30;font-size:12px;font-weight:bold;letter-spacing:0.17px;">2024/12</div><div class="t" style="left:615.4px;top:477.4px;color:#1a1a30;font-size:12px;font-weight:bold;letter-spacing:0.17px;">2025/01</div><div class="t" style="left:703.4px;top:477.4px;color:#1a1a30;font-size:12px;font-weight:bold;letter-spacing:0.17px;">2025/02</div><div class="t s" style="left:108.2px;top:496.2px;color:#ff8000;"><i><b>V</b></i><i><b class="w">I</b></i><i><b>P</b></i></div><div class="t s" style="left:166px;top:496.2px;color:#1a1a1a;"><i><b>M</b></i><i><b>A</b></i></div><div class="t s" style="left:193.2px;top:496.2px;color:#1a1a1a;"><i><b>M</b></i><i><b>A</b></i><i><b>C</b></i><i><b>D</b></i></div><div class="t s" style="left:234.2px;top:496.2px;color:#1a1a1a;"><i><b>B</b></i><i><b>O</b></i><i><b>L</b></i><i><b>L</b></i></div><div class="t s" style="left:274px;top:496.2px;color:#1a1a1a;"><i><b>V</b></i><i><b>O</b></i><i><b>L</b></i></div><div class="t s" style="left:308.2px;top:496.2px;color:#1a1a1a;"><i><b>B</b></i><i><b class="w">I</b></i><i><b>A</b></i><i><b>S</b></i></div><div class="t s" style="left:348px;top:496.2px;color:#1a1a1a;"><i><b>C</b></i><i><b>C</b></i><i><b class="w">I</b></i></div><div class="t s" style="left:382.7px;top:496.2px;color:#1a1a1a;"><i><b>K</b></i><i><b>D</b></i><i><b class="w">J</b></i></div><div class="t s" style="left:415.7px;top:496.2px;color:#1a1a1a;"><i><b>L</b></i><i><b>W</b></i><i><b>&amp;</b></i></div><div class="t s" style="left:456.2px;top:496.2px;color:#1a1a1a;"><i><b>R</b></i><i><b>S</b></i><i><b class="w">I</b></i></div><div class="t s" style="left:489.7px;top:496.2px;color:#1a1a1a;"><i><b>C</b></i><i><b>R</b></i></div><div class="t s" style="left:517.9px;top:496.2px;color:#1a1a1a;"><i><b>P</b></i><i><b>S</b></i><i><b>Y</b></i></div><div class="t" style="left:6.2px;top:54.6px;color:#fff;font-size:11px;font-weight:bold;font-family:'Liberation Serif',serif;">K</div><div class="t" style="left:736px;top:467.7px;font-size:30px;letter-spacing:2.35px;color:#d4e1f3;text-shadow:1px 1px 0.6px rgba(160,132,115,0.68);">FX678</div>
</body></html>
